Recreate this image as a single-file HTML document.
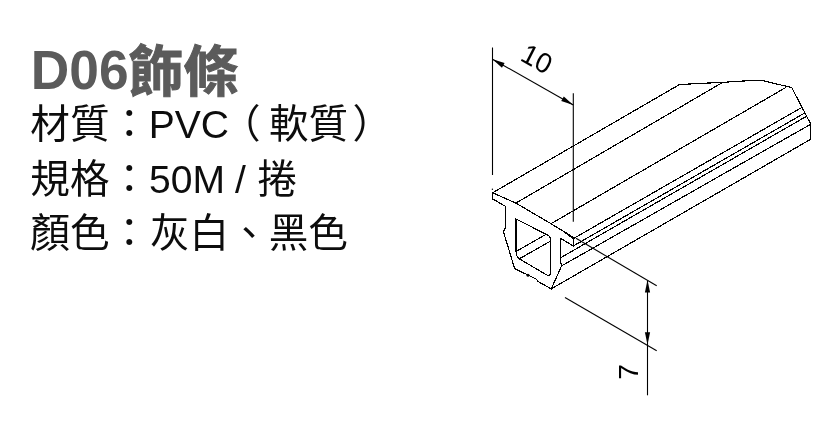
<!DOCTYPE html>
<html lang="zh-Hant">
<head>
<meta charset="utf-8">
<title>D06飾條</title>
<style>
html,body{margin:0;padding:0;background:#fff;}
body{width:840px;height:425px;overflow:hidden;font-family:"Liberation Sans",sans-serif;}
</style>
</head>
<body>
<svg role="img" aria-label="D06飾條 材質：PVC（軟質） 規格：50M / 捲 顏色：灰白、黑色" width="840" height="425" viewBox="0 0 840 425" style="display:block;will-change:transform;filter:grayscale(1)">
<title>D06飾條</title>
<desc>材質：PVC（軟質）／規格：50M / 捲／顏色：灰白、黑色。等角斷面圖，寬 10、高 7。</desc>
<rect width="840" height="425" fill="#fff"/>
<g fill="#5b5b5b">
<text x="0" y="0" transform="translate(30.8 88.5) scale(1 1.06)" font-family="'Liberation Sans', sans-serif" font-weight="700" font-size="52.3" textLength="97.8" lengthAdjust="spacingAndGlyphs">D06</text>
<text x="128.5" y="91" font-family="'Liberation Sans', 'Noto Sans CJK TC', sans-serif" font-weight="700" font-size="55" stroke="#5b5b5b" stroke-width="1" stroke-linejoin="miter">飾條</text>
</g>
<g fill="#0d0d0d">
<g font-family="'Liberation Sans', 'Noto Sans CJK TC', sans-serif" font-size="39.6">
<text x="30.3" y="138">材質：</text>
<text x="221" y="138">（</text>
<text x="269" y="138">軟質</text>
<text x="352.5" y="138">）</text>
<text x="30.3" y="193">規格：</text>
<text x="257.5" y="193">捲</text>
<text x="30.3" y="247">顏色：</text>
<text x="150" y="247">灰白、黑色</text>
</g>
<text transform="translate(148.7 137.9) scale(1.0015 1)" font-family="'Liberation Sans', sans-serif" font-size="39">PVC</text>
<text transform="translate(149 193) scale(1.0015 1)" font-family="'Liberation Sans', sans-serif" font-size="39">50M</text>
<text transform="translate(235 193) scale(1.0015 1)" font-family="'Liberation Sans', sans-serif" font-size="39">/</text>
</g>
<g fill="none" stroke="#000" stroke-width="1.15" stroke-linecap="square" stroke-linejoin="miter" shape-rendering="crispEdges">
<path d="M492.6 192.8 L515.9 203.1 L551 223.7 L574.4 238"/>
<path d="M492.6 192.8 L492.6 198.9 L505.5 206.4 L505.5 227 L503.5 232 L514.6 268.5 L536.6 279.3 L537.6 281.2 L551.2 288.9"/>
<path d="M551.2 288.9 L561.6 265.9 L560.7 261.7 L560.7 238.4"/>
<path d="M560.7 238.4 L573.3 246 L573.8 238.4"/>
<path d="M565.3 232.9 L573.6 238.9" stroke-width="1"/>
<path d="M516 219 L516 251.5 Q516.3 256.8 519.3 258.8 L546.6 274.9 Q550.4 276.6 550.4 273 L550.4 238.6 Q550.2 236 546.4 234.4 L516 219 Z"/>
<path d="M516 251.5 L545 235"/>
<path d="M519.3 258.8 L550.4 241.2"/>
<path d="M492.6 192.8 L679.2 84.7"/>
<path d="M515.9 203.1 L722.5 82.5"/>
<path d="M551 223.7 L785.8 87.5"/>
<path d="M574.4 238 L801.7 107.5"/>
<path d="M573.3 246 L804.2 113.3"/>
<path d="M560.7 257.7 L805.8 116.7"/>
<path d="M561.6 265.9 L810.8 124.2"/>
<path d="M551.2 288.9 L810.8 139.2"/>
<path d="M679.2 84.7 L698.3 83.4 L722.5 82.5 L734.2 81.4 L760 80.3 L763.3 80.8 L791.7 87.5 L810.8 124.2 L810.8 139.2"/>
</g>
<g fill="none" stroke="#000" stroke-width="1.1" stroke-linecap="butt">
<path d="M492.5 47.5 L492.5 175"/>
<path d="M573.3 93.3 L573.3 221.7"/>
<path d="M492.5 59.2 L573.3 105"/>
<path d="M576 238.3 L656.7 285.8"/>
<path d="M565 297.5 L656.7 350.8"/>
<path d="M647.5 281 L647.5 395.3"/>
</g>
<path d="M492.5 59.3 L504.59 63.11 L501.98 67.72 Z" fill="#000" stroke="none"/>
<path d="M573.3 104.9 L561.21 101.09 L563.82 96.48 Z" fill="#000" stroke="none"/>
<path d="M647.5 280 L650.1 292.5 L644.9 292.5 Z" fill="#000" stroke="none"/>
<path d="M647.5 344.7 L644.9 332.2 L650.1 332.2 Z" fill="#000" stroke="none"/>
<circle cx="528" cy="275.3" r="1.5" fill="#000"/>
<circle cx="492.4" cy="189.3" r="0.7" fill="#000"/>
<text transform="matrix(0.87 0.49 -0.45 0.89 525.1 63.2)" x="-7" y="0" font-family="'Liberation Sans', sans-serif" font-size="28" fill="#000">10</text>
<text transform="translate(638.3 380.2) rotate(-90)" x="0.5" y="0" font-family="'Liberation Sans', sans-serif" font-size="28" fill="#000">7</text>
</svg>
</body>
</html>
